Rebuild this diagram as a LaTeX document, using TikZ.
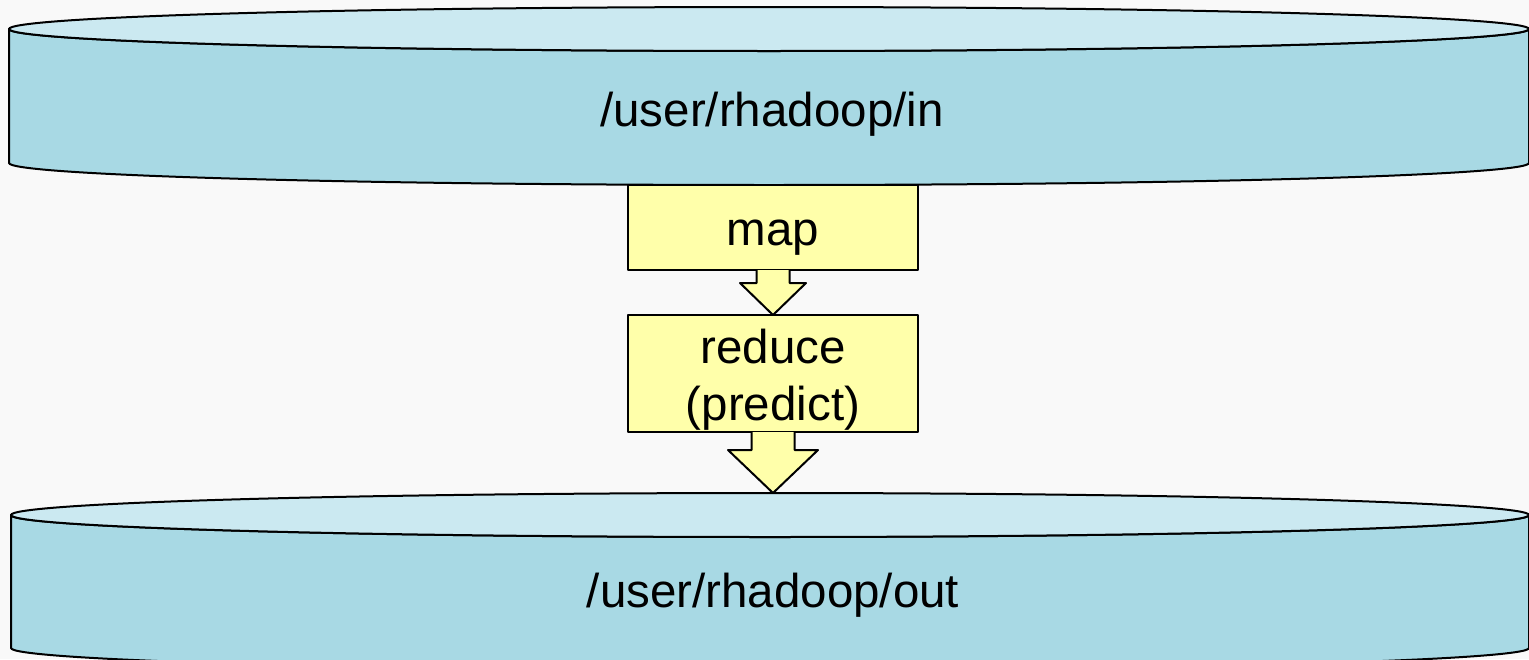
\documentclass[tikz,border=0pt]{standalone}
\usepackage{fontspec}
\setmainfont{Liberation Sans}
\usetikzlibrary{calc}
\definecolor{bgc}{HTML}{F9F9F9}
\definecolor{sidec}{HTML}{A8D9E4}
\definecolor{topc}{HTML}{CBE9F1}
\definecolor{boxc}{HTML}{FFFFAA}
\tikzset{
  outline/.style={draw=black, line width=2pt, line join=round},
  stepbox/.style={outline, fill=boxc, rectangle, inner sep=0pt, outer sep=0pt,
    minimum width=290pt},
  blockarrow/.style={outline, fill=boxc},
  label/.style={font=\fontsize{47.5}{57}\selectfont, inner sep=0pt, anchor=base},
}
\begin{document}
\begin{tikzpicture}[x=1pt,y=-1pt]
\fill[bgc] (0,0) rectangle (1529,659);
\useasboundingbox (0,0) rectangle (1529,659);
% top cylinder
\path[outline, fill=sidec] (9,29) -- (9,163) arc[start angle=180, end angle=0, x radius=760, y radius=22]
  -- (1529,29) arc[start angle=0, end angle=180, x radius=760, y radius=22] -- cycle;
\path[outline, fill=topc] (769,29) ellipse[x radius=760, y radius=22];
\node[label] (in) at (772,126) {/user/rhadoop/in};
% bottom cylinder
\path[outline, fill=sidec] (11,515) -- (11,648) arc[start angle=180, end angle=0, x radius=759, y radius=22]
  -- (1529,515) arc[start angle=0, end angle=180, x radius=759, y radius=22] -- cycle;
\path[outline, fill=topc] (770,515) ellipse[x radius=759, y radius=22];
\node[label] (out) at (773,607) {/user/rhadoop/out};
% boxes
\node[stepbox, minimum height=85pt] (map) at (773,227.5) {};
\node[stepbox, minimum height=117pt] (reduce) at (773,373.5) {};
\node[label] (maptext) at (773,245) {map};
\node[label] (reducetext) at (773,363) {reduce};
\node[label] (predicttext) at (773,420) {(predict)};
% arrows
\path[blockarrow] ($(map.south)+(-16.5,0)$) -- ++(0,13) -- ++(-16.5,0) -- (reduce.north)
  -- ($(map.south)+(33,13)$) -- ++(-16.5,0) -- ($(map.south)+(16.5,0)$);
\coordinate (outtop) at (773,493);
\path[blockarrow] ($(reduce.south)+(-21.5,0)$) -- ++(0,18) -- ++(-23.5,0) -- (outtop)
  -- ($(reduce.south)+(45,18)$) -- ++(-23.5,0) -- ($(reduce.south)+(21.5,0)$);
\end{tikzpicture}
\end{document}
